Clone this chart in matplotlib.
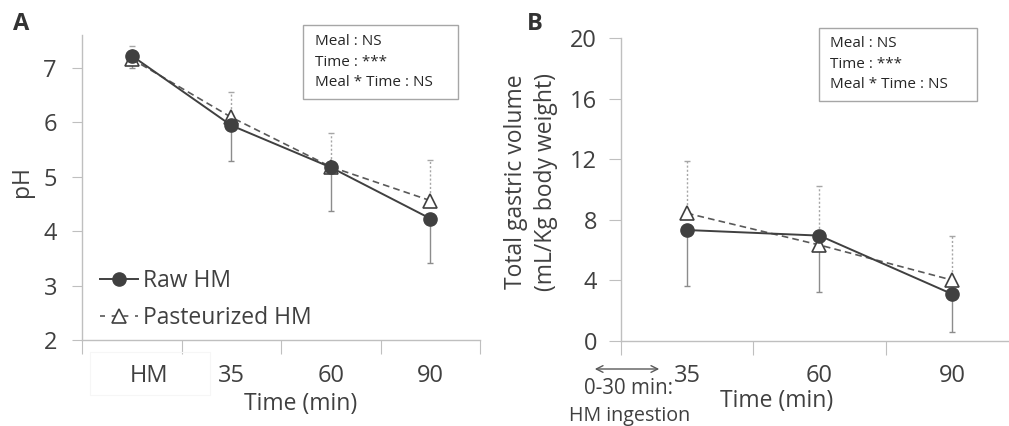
import matplotlib
matplotlib.use("Agg")
import matplotlib.pyplot as plt
from matplotlib.transforms import ScaledTranslation
from matplotlib.lines import Line2D
from matplotlib.patches import Rectangle, FancyArrowPatch

plt.rcParams['font.family'] = ['Open Sans', 'DejaVu Sans']

# ---- data ----
catsA = ["HM", "35", "60", "90"]
rawA = [7.22, 5.94, 5.17, 4.23]
rawA_lo = [7.00, 5.28, 4.37, 3.42]
pastA = [7.16, 6.09, 5.18, 4.56]
pastA_hi = [7.40, 6.55, 5.80, 5.31]

catsB = ["35", "60", "90"]
rawB = [7.32, 6.95, 3.09]
rawB_lo = [3.62, 3.20, 0.60]
pastB = [8.43, 6.33, 4.01]
pastB_hi = [11.88, 10.25, 6.95]

stats_text = "Meal : NS\nTime : ***\nMeal * Time : NS"

W, H = 1009, 426
fig = plt.figure(figsize=(W / 100, H / 100), dpi=100)

TXT = "#404040"
AX = "#bfbfbf"
LINE = "#404040"
ERR = "#8c8c8c"
FS = 17
LFS = 16.5


def px_axes(l, t, r, b):
    return fig.add_axes([l / W, 1 - b / H, (r - l) / W, (b - t) / H])


def style(ax, n, ylen, ypad):
    for s in ["top", "right"]:
        ax.spines[s].set_visible(False)
    for s in ["left", "bottom"]:
        ax.spines[s].set_color(AX)
        ax.spines[s].set_linewidth(1.0)
    ax.set_xticks(range(n + 1))
    ax.set_xticklabels([])
    ax.tick_params(axis="x", which="major", length=10, color=AX, direction="out")
    ax.tick_params(axis="y", which="major", length=ylen, color=AX, direction="out",
                   labelsize=FS, labelcolor=TXT, pad=ypad)
    ax.tick_params(axis="x", which="minor", length=0, labelsize=FS, labelcolor=TXT, pad=17)


def draw(ax, raw, raw_lo, past, past_hi):
    xs = [i + 0.5 for i in range(len(raw))]
    ax.errorbar(xs, raw, yerr=[[r - l for r, l in zip(raw, raw_lo)], [0] * len(raw)],
                fmt="none", ecolor=ERR, elinewidth=1.0, capsize=2.5, capthick=1.0, zorder=2)
    eb = ax.errorbar(xs, past, yerr=[[0] * len(past), [h - p for h, p in zip(past_hi, past)]],
                     fmt="none", ecolor="#a6a6a6", elinewidth=1.0, capsize=2.5, capthick=1.0, zorder=2)
    eb[2][0].set_linestyle((0, (1.5, 1.5)))
    ax.plot(xs, past, color="#595959", lw=1.2, ls=(0, (4, 2.5)), marker="^", ms=10,
            mfc="white", mec=LINE, mew=1.2, zorder=3)
    ax.plot(xs, raw, color=LINE, lw=1.4, ls="-", marker="o", ms=9.5,
            mfc=LINE, mec=LINE, zorder=4)


# ---- Panel A ----
axA = px_axes(82, 35, 480, 340)
style(axA, 4, 7, 11)
draw(axA, rawA, rawA_lo, pastA, pastA_hi)
axA.set_xlim(0, 4)
axA.set_ylim(2, 7.6)
axA.set_yticks([2, 3, 4, 5, 6, 7])
axA.set_xticks([i + 0.5 for i in range(4)], minor=True)
axA.set_xticklabels(catsA, minor=True)
lbl = axA.get_xticklabels(minor=True)[0]
lbl.set_transform(lbl.get_transform() + ScaledTranslation(0.17, 0, fig.dpi_scale_trans))
fig.text(22 / W, 1 - 182 / H, "pH", rotation=90, fontsize=LFS, color=TXT,
         ha="center", va="center")
fig.text(301 / W, 1 - 404 / H, "Time (min)", ha="center", va="center", fontsize=LFS, color=TXT)
fig.text(21 / W, 1 - 24 / H, "A", fontsize=17, fontweight="bold", color="#333333",
         ha="center", va="center")
fig.patches.append(Rectangle((90 / W, 1 - 395 / H), 120 / W, 43 / H,
                             transform=fig.transFigure, fill=False, ec="#f6f6f6", lw=0.8))

handles = [Line2D([], [], color=LINE, lw=1.4, marker="o", ms=9.5, mfc=LINE, mec=LINE),
           Line2D([], [], color="#595959", lw=1.2, ls=(0, (3, 4)), marker="^", ms=10,
                  mfc="white", mec=LINE, mew=1.2)]
leg = fig.legend(handles, ["Raw HM", "Pasteurized HM"], loc="center left",
                 bbox_to_anchor=(100 / W, 1 - 299.5 / H), frameon=False, fontsize=LFS,
                 handlelength=1.66, handletextpad=0.22, labelspacing=0.53,
                 borderaxespad=0, borderpad=0)
for t in leg.get_texts():
    t.set_color(TXT)

fig.text(315 / W, 1 - 62 / H, stats_text, fontsize=11, color="#262626",
         ha="left", va="center", linespacing=1.5)
fig.patches.append(Rectangle((303 / W, 1 - 99 / H), 155 / W, 74 / H,
                             transform=fig.transFigure, fill=False, ec="#a6a6a6", lw=1.0))

# ---- Panel B ----
axB = px_axes(620.7, 38.3, 1009, 340.7)
style(axB, 3, 9, 8)
draw(axB, rawB, rawB_lo, pastB, pastB_hi)
axB.set_xlim(0, (1009 - 620.7) / 132.5)
axB.set_ylim(0, 20)
axB.set_yticks([0, 4, 8, 12, 16, 20])
axB.set_xticks([i + 0.5 for i in range(3)], minor=True)
axB.set_xticklabels(catsB, minor=True)
fig.text(531 / W, 1 - 182 / H, "Total gastric volume\n(mL/Kg body weight)", rotation=90,
         fontsize=LFS, color=TXT, ha="center", va="center", linespacing=1.3)
fig.text(777 / W, 1 - 401 / H, "Time (min)", ha="center", va="center", fontsize=LFS, color=TXT)
fig.text(535 / W, 1 - 24 / H, "B", fontsize=17, fontweight="bold", color="#333333",
         ha="center", va="center")

fig.text(830 / W, 1 - 64 / H, stats_text, fontsize=11, color="#262626",
         ha="left", va="center", linespacing=1.5)
fig.patches.append(Rectangle((819 / W, 1 - 101 / H), 158 / W, 73.3 / H,
                             transform=fig.transFigure, fill=False, ec="#a6a6a6", lw=1.0))

fig.add_artist(FancyArrowPatch(
    (592 / W, 1 - 369 / H), (662 / W, 1 - 369 / H), transform=fig.transFigure,
    arrowstyle="<->", mutation_scale=12, color="#595959", lw=1.0))
fig.text(629 / W, 1 - 389 / H, "0-30 min:", ha="center", va="center", fontsize=14.8, color=TXT)
fig.text(630 / W, 1 - 416 / H, "HM ingestion", ha="center", va="center", fontsize=14.2, color=TXT)

fig.savefig("out.png", dpi=100)
